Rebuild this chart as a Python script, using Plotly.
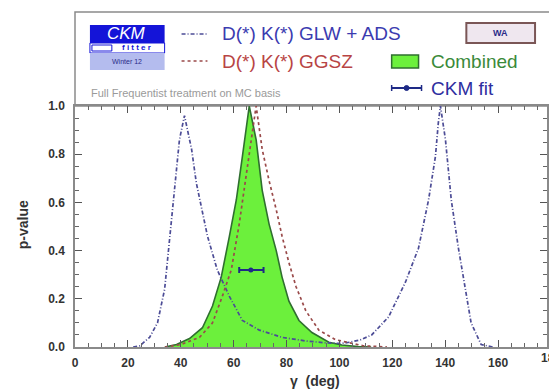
import plotly.graph_objects as go

# p-value scans versus gamma (deg)
glw_gamma = [22, 24.5, 28.2, 31.2, 33.9, 35.8, 37.7, 39.5, 41.4, 44.1, 45.9, 47.8, 50.1,
             53.8, 58.4, 63.3, 69.7, 78.3, 87.3, 95, 100.9, 104, 108, 112.2, 118.6, 125,
             129.9, 133.7, 136.3, 137.4, 138.2, 140.1, 142.3, 145, 147.6, 149.8, 153.6, 158]
glw_p = [0, 0.005, 0.04, 0.10, 0.24, 0.44, 0.65, 0.86, 0.96, 0.82, 0.68, 0.58, 0.46,
         0.32, 0.21, 0.11, 0.07, 0.04, 0.025, 0.017, 0.015, 0.02, 0.03, 0.05, 0.125, 0.27,
         0.41, 0.61, 0.79, 0.93, 1.0, 0.86, 0.61, 0.41, 0.24, 0.10, 0.01, 0]

ggsz_gamma = [34, 40, 47.1, 52, 55.7, 59.1, 62.1, 64.8, 65.9, 68.5, 70.8, 73.4, 76.1,
              78.3, 80.9, 83.6, 87.3, 92.2, 98.6, 109, 118]
ggsz_p = [0, 0.01, 0.04, 0.10, 0.21, 0.32, 0.51, 0.72, 0.79, 1.0, 0.82, 0.69, 0.57,
          0.46, 0.35, 0.25, 0.15, 0.07, 0.03, 0.005, 0]

comb_gamma = [34, 38.4, 43.3, 48.2, 52, 55.3, 58.4, 61, 63.3, 65.9, 68.5, 70.8, 73.4,
              76.1, 78.3, 80.9, 84.7, 89.6, 96, 100.9, 107, 112]
comb_p = [0, 0.01, 0.035, 0.08, 0.17, 0.29, 0.46, 0.61, 0.79, 1.0, 0.86, 0.65, 0.51,
          0.40, 0.29, 0.19, 0.11, 0.06, 0.02, 0.008, 0.002, 0]

ckm_fit = [66.5]
ckm_fit_p = [0.32]
ckm_err_minus = [4.4]
ckm_err_plus = [4.8]

x_ticks = [0, 20, 40, 60, 80, 100, 120, 140, 160]
y_ticks = [0.0, 0.2, 0.4, 0.6, 0.8, 1.0]

W, H = 549, 390
L, R, T, B = 75, 0, 106, 43
X_MAX = 178.5

FONT = "Liberation Sans, Arial, sans-serif"
BLUE = "#3b3bb0"
RED = "#b84444"
GREEN_FILL = "#6cf03c"
GREEN_LINE = "#2f6f2f"
NAVY = "#1e2a86"
FRAME = "#8a8a8a"
GLW_LINE = "#4c4c96"
GGSZ_LINE = "#9a4a4a"


def px(x):
    return (x - L) / (W - L - R)


def py(y):
    return (H - B - y) / (H - T - B)


def label(text, x, y, size, color, xanchor="center", **kw):
    return dict(text=text, xref="paper", yref="paper", x=px(x), y=py(y),
                xanchor=xanchor, yanchor="middle", showarrow=False,
                font=dict(family=FONT, size=size, color=color), **kw)


fig = go.Figure()

fig.add_trace(go.Scatter(
    x=comb_gamma, y=comb_p, mode="lines", fill="tozeroy",
    fillcolor=GREEN_FILL, line=dict(color=GREEN_LINE, width=1.6),
    showlegend=False, hoverinfo="skip"))

fig.add_trace(go.Scatter(
    x=glw_gamma, y=glw_p, mode="lines",
    line=dict(color=GLW_LINE, width=1.7, dash="4px,2px,1px,2px"),
    showlegend=False, hoverinfo="skip"))

fig.add_trace(go.Scatter(
    x=ggsz_gamma, y=ggsz_p, mode="lines",
    line=dict(color=GGSZ_LINE, width=1.7, dash="3px,3px"),
    showlegend=False, hoverinfo="skip"))

fig.add_trace(go.Scatter(
    x=ckm_fit, y=ckm_fit_p, mode="markers",
    marker=dict(color=NAVY, size=5),
    error_x=dict(type="data", symmetric=False, array=ckm_err_plus,
                 arrayminus=ckm_err_minus, color=NAVY, thickness=2, width=3),
    showlegend=False, hoverinfo="skip"))

axis_common = dict(
    showline=True, linecolor=FRAME, linewidth=1.5, mirror="allticks",
    ticks="inside", ticklen=7, tickwidth=1, tickcolor="#555",
    showgrid=False, zeroline=False,
    tickfont=dict(family=FONT, size=12, color="#333", weight="bold"),
)

fig.update_xaxes(range=[0, X_MAX], tickvals=x_ticks, ticklabelstandoff=4,
                 minor=dict(dtick=5, tick0=0, ticks="inside", ticklen=4,
                            tickcolor="#666", showgrid=False),
                 **axis_common)
fig.update_yaxes(range=[0, 1.0], tickvals=y_ticks, tickformat=".1f",
                 ticklabelstandoff=6,
                 minor=dict(dtick=0.05, tick0=0, ticks="inside", ticklen=4,
                            tickcolor="#666", showgrid=False),
                 **axis_common)

shapes = []
annotations = []

# legend frame above the plot
shapes.append(dict(type="rect", xref="paper", yref="paper",
                   x0=0, x1=px(560), y0=1, y1=py(12),
                   line=dict(color=FRAME, width=1.5), fillcolor="white", layer="below"))

# CKMfitter logo
shapes.append(dict(type="rect", xref="paper", yref="paper",
                   x0=px(90), x1=px(165), y0=py(43), y1=py(25),
                   line=dict(width=0), fillcolor="#1414d8"))
shapes.append(dict(type="rect", xref="paper", yref="paper",
                   x0=px(90), x1=px(165), y0=py(53), y1=py(43),
                   line=dict(color="#1414d8", width=1), fillcolor="white"))
shapes.append(dict(type="rect", xref="paper", yref="paper",
                   x0=px(92), x1=px(112), y0=py(51), y1=py(45),
                   line=dict(color="#1414d8", width=1), fillcolor="white"))
shapes.append(dict(type="rect", xref="paper", yref="paper",
                   x0=px(90), x1=px(165), y0=py(70), y1=py(53),
                   line=dict(width=0), fillcolor="#b4bcee"))
annotations.append(label("<i>CKM</i>", 127, 34, 17, "white"))
annotations.append(label("<b>f i t t e r</b>", 137, 48, 8, "#1414d8"))
annotations.append(label("Winter 12", 127, 62, 7, "#2a2a88"))

# legend line samples
shapes.append(dict(type="line", xref="paper", yref="paper",
                   x0=px(182), x1=px(208), y0=py(34), y1=py(34),
                   line=dict(color=GLW_LINE, width=1.7, dash="4px,2px,1px,2px")))
shapes.append(dict(type="line", xref="paper", yref="paper",
                   x0=px(182), x1=px(208), y0=py(61), y1=py(61),
                   line=dict(color=GGSZ_LINE, width=1.7, dash="3px,3px")))
annotations.append(label("D(*) K(*) GLW + ADS", 221, 34, 19, BLUE, xanchor="left"))
annotations.append(label("D(*) K(*) GGSZ", 221, 61, 19, RED, xanchor="left"))

# WA badge
shapes.append(dict(type="rect", xref="paper", yref="paper",
                   x0=px(468), x1=px(537), y0=py(43), y1=py(23),
                   line=dict(color="#7a5656", width=2), fillcolor="#efe7ef"))
annotations.append(label("<b>WA</b>", 502, 33, 9, "#2a2a88"))

# combined sample
shapes.append(dict(type="rect", xref="paper", yref="paper",
                   x0=px(393), x1=px(420), y0=py(68), y1=py(55),
                   line=dict(color=GREEN_LINE, width=1.5), fillcolor=GREEN_FILL))
annotations.append(label("Combined", 431, 62, 19, "#3a8a3a", xanchor="left"))

# CKM fit sample
shapes.append(dict(type="line", xref="paper", yref="paper",
                   x0=px(393), x1=px(423), y0=py(88), y1=py(88),
                   line=dict(color=NAVY, width=2)))
for xe in (393, 423):
    shapes.append(dict(type="line", xref="paper", yref="paper",
                       x0=px(xe), x1=px(xe), y0=py(85), y1=py(91),
                       line=dict(color=NAVY, width=1.5)))
shapes.append(dict(type="circle", xref="paper", yref="paper",
                   x0=px(405.5), x1=px(410.5), y0=py(90.5), y1=py(85.5),
                   line=dict(color=NAVY, width=1), fillcolor=NAVY))
annotations.append(label("CKM fit", 431, 88, 19, "#2e2ea0", xanchor="left"))

annotations.append(label("Full Frequentist treatment on MC basis", 89, 93, 11,
                         "#9a9a9a", xanchor="left"))

# axis titles and the clipped last tick label
annotations.append(label("<b>p-value</b>", 23, 225, 14, "#333", textangle=-90))
annotations.append(label("<b>γ  (deg)</b>", 316, 381, 14, "#333"))
annotations.append(label("<b>180</b>", 553, 358, 12, "#333"))

fig.update_layout(
    width=W, height=H,
    margin=dict(l=L, r=R, t=T, b=B, pad=0),
    paper_bgcolor="white", plot_bgcolor="white",
    shapes=shapes, annotations=annotations,
    showlegend=False,
)

fig.write_html("out.html")
